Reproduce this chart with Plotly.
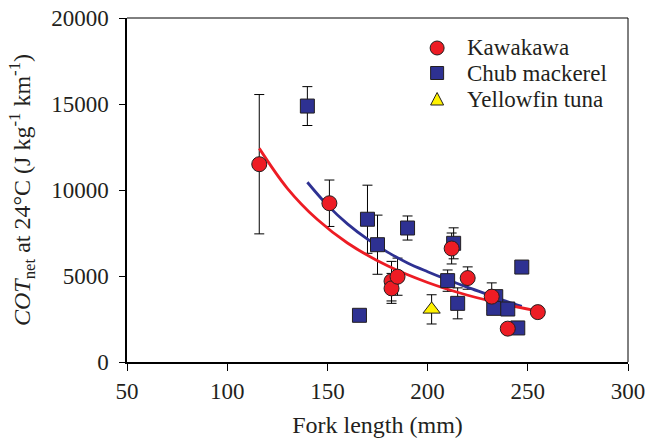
import plotly.graph_objects as go

# ---- data ----
kawa_x = [116, 151, 182, 182, 185, 212, 220, 232, 240, 255]
kawa_y = [11500, 9230, 4700, 4280, 4960, 6600, 4880, 3800, 1940, 2900]
kawa_err = [4050, 1350, 1150, 870, 1080, 900, 650, 800, 300, 300]

chub_x = [140, 166, 170, 175, 190, 210, 213, 215, 234, 233, 240, 247, 245]
chub_y = [14880, 2715, 8300, 6820, 7790, 4730, 6900, 3410, 3800, 3120, 3080, 5520, 1980]
chub_err = [1130, 300, 1980, 1720, 700, 620, 900, 900, 300, 300, 300, 300, 300]

yft_x = [202]
yft_y = [3060]
yft_err = [850]

# fitted curves
kawa_fit_x = [116, 130, 145, 160, 180, 200, 220, 240, 254]
kawa_fit_y = [12420, 10100, 8280, 6920, 5590, 4620, 3880, 3320, 2990]

chub_fit_x = [140, 150, 160, 170, 180, 190, 200, 210, 220, 230, 240, 247]
chub_fit_y = [10450, 9120, 8030, 7140, 6390, 5760, 5250, 4780, 4340, 3930, 3500, 3230]

x_ticks = [50, 100, 150, 200, 250, 300]
y_ticks = [0, 5000, 10000, 15000, 20000]

legend_names = ["Kawakawa", "Chub mackerel", "Yellowfin tuna"]

RED = "#ED1C24"
BLUE = "#2E3192"
YEL = "#FFF200"
EDGE = "#231F20"
FONT = "Liberation Serif"

fig = go.Figure()

def err_trace(x, y, e):
    return go.Scatter(
        x=x, y=y, mode="markers",
        marker=dict(size=1, color="rgba(0,0,0,0)"),
        error_y=dict(type="data", array=e, symmetric=True, color="black",
                     thickness=1, width=5),
        showlegend=False, hoverinfo="skip")

fig.add_trace(err_trace(kawa_x, kawa_y, kawa_err))
fig.add_trace(err_trace(chub_x, chub_y, chub_err))
fig.add_trace(err_trace(yft_x, yft_y, yft_err))

fig.add_trace(go.Scatter(x=chub_fit_x, y=chub_fit_y, mode="lines", line_shape="spline",
                         line=dict(color=BLUE, width=2.8), showlegend=False))
fig.add_trace(go.Scatter(x=kawa_fit_x, y=kawa_fit_y, mode="lines", line_shape="spline",
                         line=dict(color=RED, width=2.8), showlegend=False))

fig.add_trace(go.Scatter(x=chub_x, y=chub_y, mode="markers", name=legend_names[1],
                         marker=dict(symbol="square", size=14, color=BLUE,
                                     line=dict(color=EDGE, width=1)), showlegend=False))
fig.add_trace(go.Scatter(x=yft_x, y=yft_y, mode="markers", name=legend_names[2],
                         marker=dict(symbol="triangle-up", size=15, color=YEL,
                                     line=dict(color=EDGE, width=1)), showlegend=False))
fig.add_trace(go.Scatter(x=kawa_x, y=kawa_y, mode="markers", name=legend_names[0],
                         marker=dict(symbol="circle", size=15, color=RED,
                                     line=dict(color=EDGE, width=1)), showlegend=False))

# manual legend (symbols as shapes, labels as annotations)
sym_x = 0.619
rows_y = [0.9128, 0.8401, 0.7645]
shapes = [
    dict(type="circle", xref="paper", yref="paper", xsizemode="pixel", ysizemode="pixel",
         xanchor=sym_x, yanchor=rows_y[0], x0=-7, x1=7, y0=-7, y1=7,
         fillcolor=RED, line=dict(color=EDGE, width=1)),
    dict(type="rect", xref="paper", yref="paper", xsizemode="pixel", ysizemode="pixel",
         xanchor=sym_x, yanchor=rows_y[1], x0=-6.5, x1=6.5, y0=-6.5, y1=6.5,
         fillcolor=BLUE, line=dict(color=EDGE, width=1)),
    dict(type="path", xref="paper", yref="paper", xsizemode="pixel", ysizemode="pixel",
         xanchor=sym_x, yanchor=rows_y[2], path="M-6.5,-6 L6.5,-6 L0,6.5 Z",
         fillcolor=YEL, line=dict(color=EDGE, width=1)),
    # top and right frame lines
    dict(type="line", xref="paper", yref="paper", x0=0, x1=1, y0=1, y1=1,
         line=dict(color="black", width=1)),
    dict(type="line", xref="paper", yref="paper", x0=1, x1=1, y0=0, y1=1,
         line=dict(color="black", width=1)),
]
annotations = [
    dict(text=name, xref="paper", yref="paper", x=0.675, y=yy, xanchor="left",
         yanchor="middle", showarrow=False, font=dict(family=FONT, size=23, color=EDGE))
    for name, yy in zip(legend_names, rows_y)
]

fig.update_layout(
    width=646, height=439,
    margin=dict(l=127, r=18, t=18, b=77),
    paper_bgcolor="white", plot_bgcolor="white",
    font=dict(family=FONT, size=23, color=EDGE),
    shapes=shapes, annotations=annotations,
    showlegend=False,
)
fig.update_xaxes(
    range=[50, 300], tickvals=x_ticks, ticktext=[str(v) for v in x_ticks],
    ticks="outside", ticklen=7, tickwidth=1.2, tickcolor="black",
    showline=True, linewidth=2, linecolor="black",
    showgrid=False, zeroline=False, automargin=False,
    tickfont=dict(family=FONT, size=23, color=EDGE),
    title=dict(text="Fork length (mm)", font=dict(family=FONT, size=24, color=EDGE), standoff=14),
)
fig.update_yaxes(
    range=[0, 20000], tickvals=y_ticks, ticktext=[str(v) for v in y_ticks],
    ticks="outside", ticklen=6, tickwidth=1.2, tickcolor="black",
    showline=True, linewidth=1.5, linecolor="black",
    showgrid=False, zeroline=False, automargin=False,
    ticklabelstandoff=6,
    tickfont=dict(family=FONT, size=23, color=EDGE),
    title=dict(text="<i>COT</i><sub>net</sub> at 24°C (J kg<sup>-1</sup> km<sup>-1</sup>)",
               font=dict(family=FONT, size=24, color=EDGE), standoff=14),
)

fig.write_html("out.html")
